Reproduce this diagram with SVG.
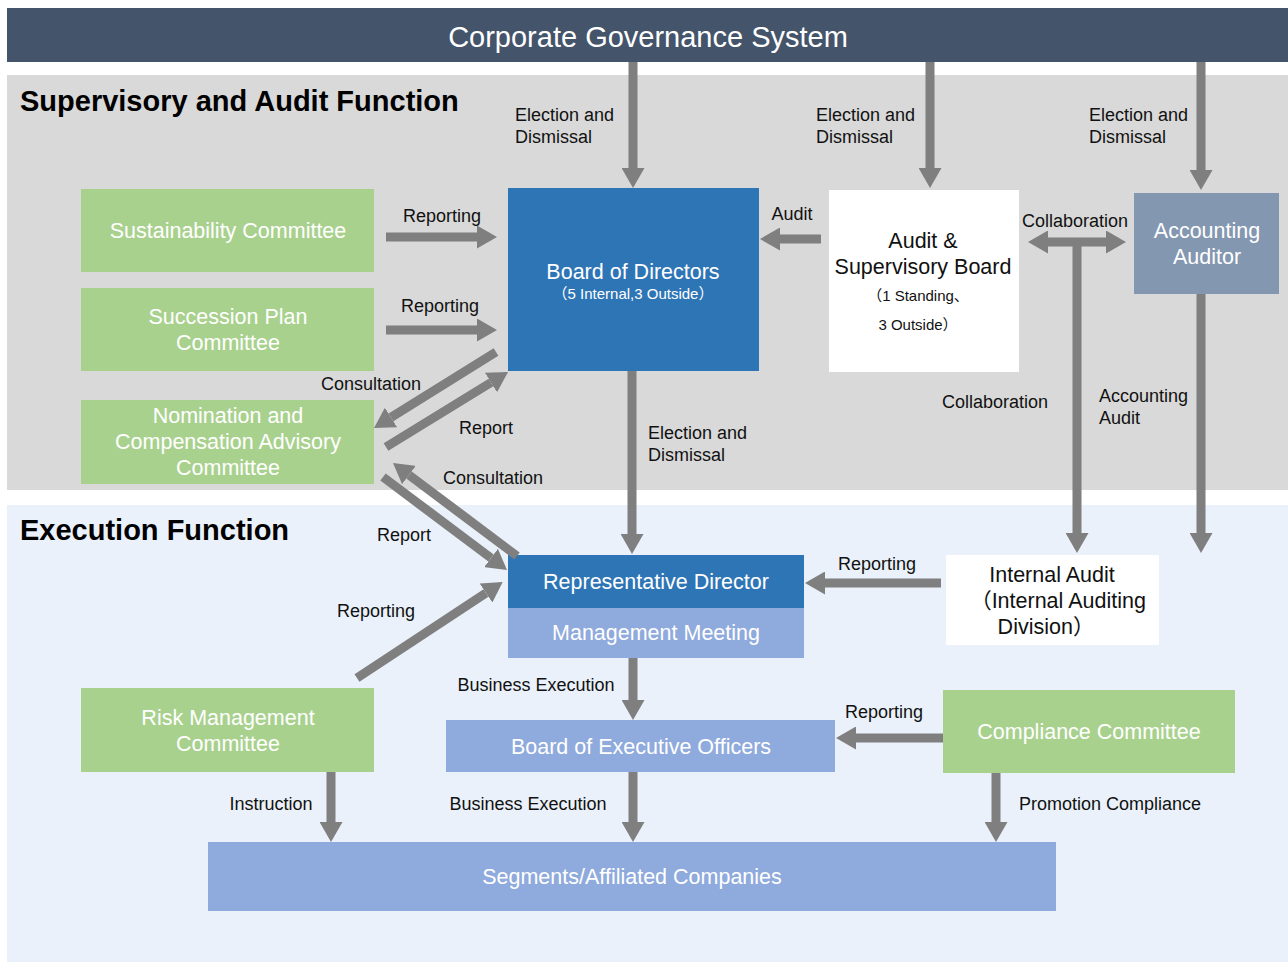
<svg xmlns="http://www.w3.org/2000/svg" width="1288" height="962" viewBox="0 0 1288 962">
<defs>
<marker id="ah" markerUnits="userSpaceOnUse" markerWidth="20" markerHeight="23" viewBox="0 0 20 23" refX="0" refY="11.5" orient="auto-start-reverse">
<path d="M0,0 L20,11.5 L0,23 Z" fill="#7f7f7f"/>
</marker>
</defs>
<style>
text{font-family:"Liberation Sans","Noto Sans CJK JP",Arial,sans-serif}
.lbl{font-size:18px;fill:#111}
.c{text-anchor:middle}
.wt{fill:#fff;font-size:21.5px;text-anchor:middle}
.bt{fill:#111;font-size:21.5px;text-anchor:middle}
.sm{font-size:15px;text-anchor:middle}
.green{fill:#a9d18e}
.blue{fill:#2e75b6}
.lblue{fill:#8faadc}
.arr line{stroke:#7f7f7f;stroke-width:9;marker-end:url(#ah)}
.title{font-size:29px;font-weight:bold;fill:#000}
</style>
<rect x="0" y="0" width="1288" height="962" fill="#fff"/>
<rect x="7" y="8" width="1281" height="54" fill="#44546a"/>
<text x="648" y="47" font-size="29" fill="#fff" text-anchor="middle">Corporate Governance System</text>
<rect x="7" y="75" width="1281" height="415" fill="#d9d9d9"/>
<rect x="7" y="505" width="1281" height="457" fill="#eaf1fa"/>
<text x="20" y="111" class="title">Supervisory and Audit Function</text>
<text x="20" y="540" class="title">Execution Function</text>

<g id="sustainability">
<rect x="81" y="189" width="293" height="83" class="green"/>
<text x="228" y="238" class="wt">Sustainability Committee</text>
</g>
<g id="succession">
<rect x="81" y="288" width="293" height="83" class="green"/>
<text x="228" y="324" class="wt">Succession Plan</text>
<text x="228" y="350" class="wt">Committee</text>
</g>
<g id="nomination">
<rect x="81" y="400" width="293" height="84" class="green"/>
<text x="228" y="423" class="wt">Nomination and</text>
<text x="228" y="449" class="wt">Compensation Advisory</text>
<text x="228" y="475" class="wt">Committee</text>
</g>
<g id="board">
<rect x="508" y="188" width="251" height="183" class="blue"/>
<text x="633" y="279" class="wt">Board of Directors</text>
<text x="633" y="299" fill="#fff" class="sm">（5 Internal,3 Outside）</text>
</g>
<g id="asb">
<rect x="829" y="190" width="190" height="182" fill="#fff"/>
<text x="923" y="248" class="bt">Audit &amp;</text>
<text x="923" y="274" class="bt">Supervisory Board</text>
<text x="918" y="301" fill="#111" class="sm">（1 Standing、</text>
<text x="918" y="330" fill="#111" class="sm">3 Outside）</text>
</g>
<g id="accauditor">
<rect x="1134" y="193" width="145" height="101" fill="#8497b0"/>
<text x="1207" y="238" class="wt">Accounting</text>
<text x="1207" y="264" class="wt">Auditor</text>
</g>
<g id="repdirector">
<rect x="508" y="555" width="296" height="53" class="blue"/>
<text x="656" y="589" class="wt">Representative Director</text>
</g>
<g id="mgmt">
<rect x="508" y="608" width="296" height="50" class="lblue"/>
<text x="656" y="640" class="wt">Management Meeting</text>
</g>
<g id="internalaudit">
<rect x="946" y="555" width="213" height="90" fill="#fff"/>
<text x="1052" y="582" class="bt">Internal Audit</text>
<text x="1058" y="608" class="bt">（Internal Auditing</text>
<text x="1046" y="634" class="bt">Division）</text>
</g>
<g id="risk">
<rect x="81" y="688" width="293" height="84" class="green"/>
<text x="228" y="725" class="wt">Risk Management</text>
<text x="228" y="751" class="wt">Committee</text>
</g>
<g id="boexec">
<rect x="446" y="720" width="389" height="52" class="lblue"/>
<text x="641" y="754" class="wt">Board of Executive Officers</text>
</g>
<g id="compliance">
<rect x="943" y="690" width="292" height="83" class="green"/>
<text x="1089" y="739" class="wt">Compliance Committee</text>
</g>
<g id="segments">
<rect x="208" y="842" width="848" height="69" class="lblue"/>
<text x="632" y="884" class="wt">Segments/Affiliated Companies</text>
</g>

<g id="connectors" class="arr">
<line x1="633" y1="62" x2="633" y2="168"/>
<line x1="930" y1="62" x2="930" y2="168"/>
<line x1="1201" y1="62" x2="1201" y2="170"/>
<line x1="386" y1="237" x2="477" y2="237"/>
<line x1="386" y1="330" x2="477" y2="330"/>
<line x1="821" y1="239" x2="780" y2="239"/>
<line x1="1048" y1="242" x2="1106" y2="242" style="marker-start:url(#ah)"/>
<line x1="1077" y1="242" x2="1077" y2="533"/>
<line x1="1201" y1="294" x2="1201" y2="533"/>
<line x1="632" y1="371" x2="632" y2="534"/>
<line x1="496" y1="352" x2="391" y2="417.4"/>
<line x1="386" y1="447" x2="491" y2="382.5"/>
<line x1="517" y1="556" x2="409" y2="475"/>
<line x1="383" y1="477" x2="491" y2="558"/>
<line x1="357" y1="678" x2="486" y2="593"/>
<line x1="941" y1="583" x2="825" y2="583"/>
<line x1="633" y1="658" x2="633" y2="700"/>
<line x1="943" y1="738" x2="856" y2="738"/>
<line x1="633" y1="772" x2="633" y2="822"/>
<line x1="331" y1="772" x2="331" y2="822"/>
<line x1="996" y1="773" x2="996" y2="822"/>
</g>

<g id="labels" class="lbl">
<text x="515" y="121">Election and</text>
<text x="515" y="143">Dismissal</text>
<text x="816" y="121">Election and</text>
<text x="816" y="143">Dismissal</text>
<text x="1089" y="121">Election and</text>
<text x="1089" y="143">Dismissal</text>
<text x="442" y="222" class="c">Reporting</text>
<text x="440" y="312" class="c">Reporting</text>
<text x="792" y="220" class="c">Audit</text>
<text x="1075" y="227" class="c">Collaboration</text>
<text x="995" y="408" class="c">Collaboration</text>
<text x="1099" y="402">Accounting</text>
<text x="1099" y="424">Audit</text>
<text x="648" y="439">Election and</text>
<text x="648" y="461">Dismissal</text>
<text x="371" y="390" class="c">Consultation</text>
<text x="486" y="434" class="c">Report</text>
<text x="493" y="484" class="c">Consultation</text>
<text x="404" y="541" class="c">Report</text>
<text x="376" y="617" class="c">Reporting</text>
<text x="877" y="570" class="c">Reporting</text>
<text x="536" y="691" class="c">Business Execution</text>
<text x="884" y="718" class="c">Reporting</text>
<text x="528" y="810" class="c">Business Execution</text>
<text x="271" y="810" class="c">Instruction</text>
<text x="1110" y="810" class="c">Promotion Compliance</text>
</g>
</svg>
